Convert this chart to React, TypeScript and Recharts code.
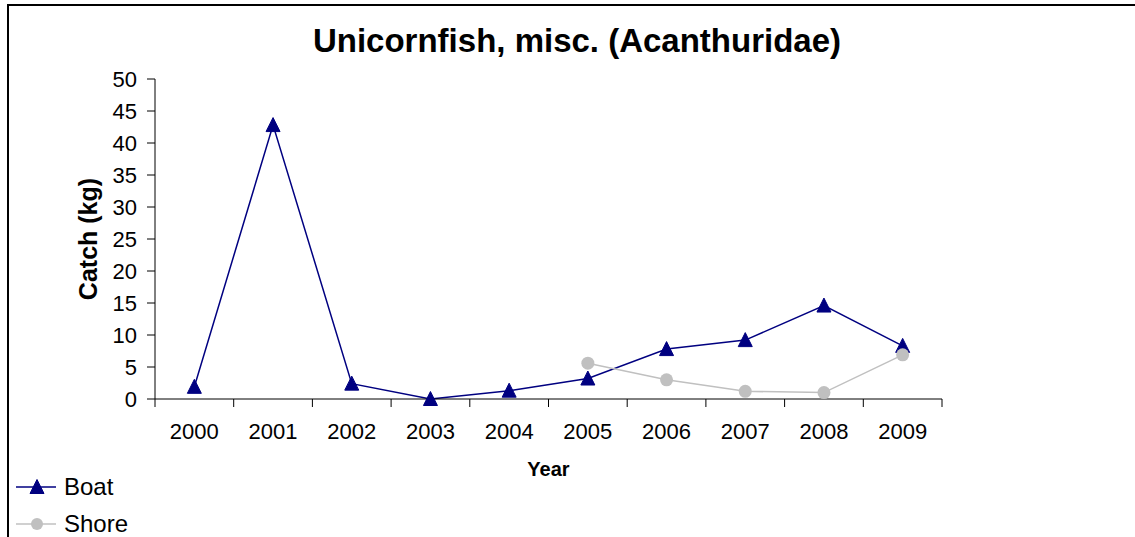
import React from 'react';
import { LineChart, Line, XAxis, YAxis, Legend } from 'recharts';

// Catch per year
const years = ['2000', '2001', '2002', '2003', '2004', '2005', '2006', '2007', '2008', '2009'];
const boat = [1.9, 42.8, 2.4, 0, 1.3, 3.2, 7.8, 9.2, 14.6, 8.3];
const shore: (number | null)[] = [null, null, null, null, null, 5.6, 3.0, 1.2, 1.0, 6.9];
const yTicks = [0, 5, 10, 15, 20, 25, 30, 35, 40, 45, 50];
// tick marks sit between the years
const xBoundaries = [-0.5, 0.5, 1.5, 2.5, 3.5, 4.5, 5.5, 6.5, 7.5, 8.5, 9.5];

const FONT = '"Liberation Sans", Arial, sans-serif';
const NAVY = '#000080';
const GREY = '#c0c0c0';
const W = 1135;
const H = 537;
const MARGIN = { top: 79, right: 193, left: 95, bottom: 0 };
const Y_AXIS_W = 60;
const STEP = (W - MARGIN.left - MARGIN.right - Y_AXIS_W) / years.length;

const data = years.map((year, i) => ({ x: i, year, boat: boat[i], shore: shore[i] }));

// recharts hands the dot its own fill, so colour is fixed here
const Triangle = ({ cx, cy }: any) => {
  if (cx == null || cy == null) return null;
  const s = 14;
  const h = 13;
  return (
    <path
      d={`M${cx},${cy - h / 2 - 1} L${cx + s / 2},${cy + h / 2} L${cx - s / 2},${cy + h / 2} Z`}
      fill={NAVY}
      stroke={NAVY}
      strokeWidth={1}
    />
  );
};

const Circle = ({ cx, cy }: any) => {
  if (cx == null || cy == null) return null;
  return <circle cx={cx} cy={cy} r={6.5} fill={GREY} />;
};

// label sits in the middle of the band to the right of each boundary
const YearTick = ({ x, y, payload }: any) => {
  const idx = Math.round(payload.value + 0.5);
  if (idx >= years.length) return null;
  return (
    <text x={x + STEP / 2} y={y} dy="0.71em" textAnchor="middle" fontSize={22} fill="#000" fontFamily={FONT}>
      {years[idx]}
    </text>
  );
};

const LegendBox = () => (
  <div style={{ position: 'relative', height: 63, fontFamily: FONT, fontSize: 24, color: '#000' }}>
    <div style={{ position: 'absolute', top: 0, display: 'flex', alignItems: 'center', height: 26 }}>
      <svg width={48} height={20}>
        <line x1={0} y1={10} x2={40} y2={10} stroke={NAVY} strokeWidth={1.5} />
        <Triangle cx={21} cy={10} />
      </svg>
      <span>Boat</span>
    </div>
    <div style={{ position: 'absolute', top: 37, display: 'flex', alignItems: 'center', height: 26 }}>
      <svg width={48} height={20}>
        <line x1={0} y1={10} x2={40} y2={10} stroke={GREY} strokeWidth={1.5} />
        <circle cx={21} cy={10} r={6} fill={GREY} />
      </svg>
      <span>Shore</span>
    </div>
  </div>
);

export default function App() {
  return (
    <div style={{ position: 'absolute', left: 0, top: 0, width: W, height: H, background: '#fff', overflow: 'hidden' }}>
      <div
        style={{
          position: 'absolute',
          left: 7,
          top: 4,
          width: W,
          height: H,
          borderLeft: '2px solid #000',
          borderTop: '2px solid #000',
        }}
      />
      <div
        style={{
          position: 'absolute',
          left: 0,
          top: 22,
          width: 1154,
          textAlign: 'center',
          fontFamily: FONT,
          fontWeight: 'bold',
          fontSize: 33,
          color: '#000',
        }}
      >
        Unicornfish, misc. (Acanthuridae)
      </div>
      <LineChart width={W} height={H} data={data} margin={MARGIN} style={{ position: 'absolute', left: 0, top: 0 }}>
        <XAxis
          dataKey="x"
          type="number"
          domain={[-0.5, 9.5]}
          ticks={xBoundaries}
          interval={0}
          height={75}
          stroke="#000"
          tickSize={8}
          tickMargin={16}
          tick={<YearTick />}
          label={{ value: 'Year', position: 'insideBottom', offset: 0, dy: 2, fill: '#000', fontSize: 20, fontWeight: 'bold', fontFamily: FONT }}
        />
        <YAxis
          domain={[0, 50]}
          ticks={yTicks}
          interval={0}
          width={Y_AXIS_W}
          stroke="#000"
          tickSize={8}
          tickMargin={10}
          tick={{ fill: '#000', fontSize: 22, fontFamily: FONT }}
          label={{
            value: 'Catch (kg)',
            angle: -90,
            position: 'insideLeft',
            offset: -7,
            fill: '#000',
            fontSize: 25,
            fontWeight: 'bold',
            fontFamily: FONT,
            style: { textAnchor: 'middle' },
          }}
        />
        <Legend
          verticalAlign="bottom"
          align="left"
          content={<LegendBox />}
          wrapperStyle={{ left: 16, bottom: 0, width: 200 }}
        />
        <Line
          dataKey="boat"
          name="Boat"
          stroke={NAVY}
          strokeWidth={1.5}
          dot={<Triangle />}
          activeDot={false}
          isAnimationActive={false}
        />
        <Line
          dataKey="shore"
          name="Shore"
          stroke={GREY}
          strokeWidth={1.5}
          dot={<Circle />}
          activeDot={false}
          isAnimationActive={false}
        />
      </LineChart>
    </div>
  );
}
